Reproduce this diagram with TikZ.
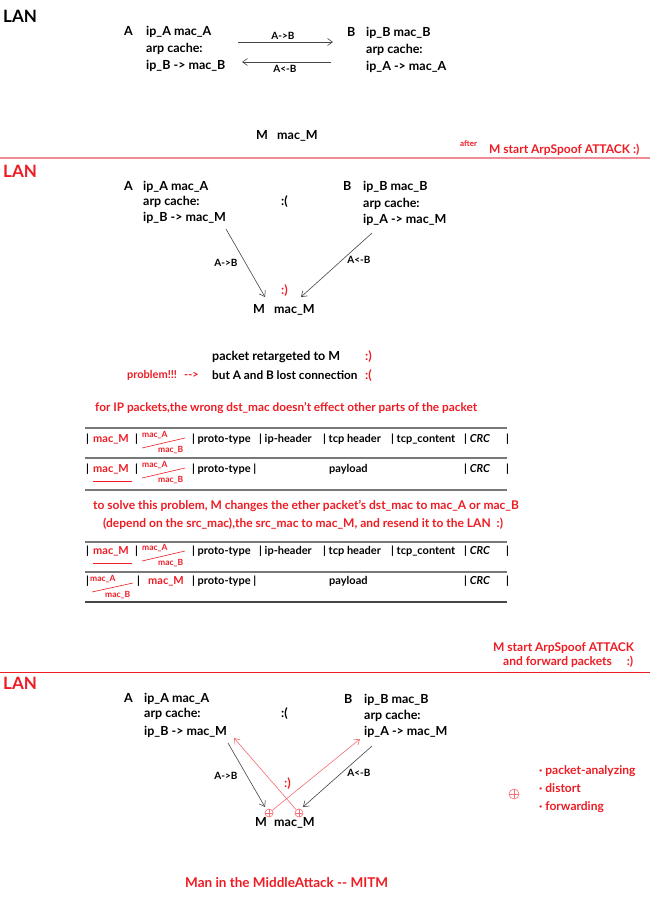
\documentclass[tikz,border=0pt]{standalone}
\usepackage{fontspec}
\setmainfont{Lato}
\usetikzlibrary{arrows.meta}
\definecolor{myred}{RGB}{238,28,36}
\definecolor{lred}{RGB}{245,110,115}
\definecolor{pinkl}{RGB}{240,140,150}
\definecolor{dgray}{RGB}{70,70,70}
\definecolor{tgray}{RGB}{120,120,120}
\tikzset{
 txt/.style={anchor=west, inner sep=0pt, text height=9pt, text depth=3pt, font=\fontsize{12.5}{14}\selectfont\bfseries, text=black},
 rtxt/.style={txt, text=myred},
 lan/.style={txt, font=\fontsize{17}{19}\selectfont\bfseries, text height=12pt, text depth=0pt},
 lbl/.style={anchor=center, inner sep=0pt, font=\fontsize{10}{11}\selectfont\bfseries},
 tab/.style={anchor=west, inner sep=0pt, text height=7.5pt, text depth=2.5pt, font=\fontsize{11}{12}\selectfont\bfseries},
 rtab/.style={tab, text=myred},
 stab/.style={tab, text=myred, font=\fontsize{8.5}{10}\selectfont\bfseries, text height=6pt, text depth=2pt},
 msg/.style={rtab, font=\fontsize{12}{13}\selectfont\bfseries},
 arr/.style={-{Straight Barb[length=5pt,width=7pt]}, line width=0.6pt, draw=dgray},
 rarr/.style={-{Straight Barb[length=5pt,width=7pt]}, line width=0.6pt, draw=lred},
 hrule/.style={draw=tgray, line width=1.3pt},
 slash/.style={draw=myred, line width=0.6pt},
 oplus/.style={circle, draw=lred, line width=0.6pt, inner sep=0pt, minimum size=8pt, path picture={\draw[lred, line width=0.6pt] (path picture bounding box.north) -- (path picture bounding box.south) (path picture bounding box.west) -- (path picture bounding box.east);}},
}
\begin{document}
\begin{tikzpicture}[x=1pt,y=-1pt]
\useasboundingbox[fill=white] (0,0) rectangle (650,918);

% ---------- section 1
\node[lan] (lan1) at (3,17) {LAN};
\node[txt] (a1) at (124,32) {A};
\node[txt] (a1ip) at (146,32) {ip\_A mac\_A};
\node[txt] (a1arp) at (146,49) {arp cache:};
\node[txt] (a1c) at (146,66) {ip\_B -> mac\_B};
\node[txt] (b1) at (347,33) {B};
\node[txt] (b1ip) at (366,33) {ip\_B mac\_B};
\node[txt] (b1arp) at (366,50) {arp cache:};
\node[txt] (b1c) at (366,67) {ip\_A -> mac\_A};
\coordinate (e1s) at (238,42); \coordinate (e1e) at (333,42);
\coordinate (e2s) at (331,62); \coordinate (e2e) at (242,62);
\draw[arr] (e1s) -- (e1e);
\draw[arr] (e2s) -- (e2e);
\node[lbl] (l1) at (283,36) {A->B};
\node[lbl] (l2) at (285,69) {A<-B};
\node[txt] (m1) at (256,136) {M};
\node[txt] (m1mac) at (277,136) {mac\_M};
\node[rtxt, font=\fontsize{8}{9}\selectfont\bfseries] (after) at (460,143) {after};
\node[rtxt, font=\fontsize{12}{13}\selectfont\bfseries] (att1) at (489,150) {M start ArpSpoof ATTACK :)};
\draw[pinkl, line width=2.2pt] (0,158) -- (650,158);

% ---------- section 2
\node[lan, text=myred] (lan2) at (3,171) {LAN};
\node[txt] (a2) at (124,187) {A};
\node[txt] (a2ip) at (143,187) {ip\_A mac\_A};
\node[txt] (a2arp) at (143,202) {arp cache:};
\node[txt] (a2c) at (143,218) {ip\_B -> mac\_M};
\node[txt] (sad2) at (281,202) {:(};
\node[txt] (b2) at (343,187) {B};
\node[txt] (b2ip) at (363,187) {ip\_B mac\_B};
\node[txt] (b2arp) at (363,204) {arp cache:};
\node[txt] (b2c) at (363,220) {ip\_A -> mac\_M};
\coordinate (f1s) at (226,229); \coordinate (f1e) at (265,297);
\coordinate (f2s) at (372,233); \coordinate (f2e) at (301,297);
\draw[arr] (f1s) -- (f1e);
\draw[arr] (f2s) -- (f2e);
\node[lbl] (l3) at (226,263) {A->B};
\node[lbl] (l4) at (359,260) {A<-B};
\node[rtxt] (smile2) at (281,291) {:)};
\node[txt] (m2) at (253,310) {M};
\node[txt] (m2mac) at (274,310) {mac\_M};
\node[txt] (ret) at (212,357) {packet retargeted to M};
\node[rtxt] (smile3) at (365,357) {:)};
\node[rtab] (prob) at (127,376) {problem!!!};
\node[rtab] (darr) at (184,376) {-{}->};
\node[txt, font=\fontsize{11.8}{14}\selectfont\bfseries] (lost) at (212,376) {but A and B lost connection};
\node[rtxt] (sad3) at (365,376) {:(};

% ---------- packet tables
\node[msg, font=\fontsize{11.8}{13}\selectfont\bfseries] (msg1) at (95,409) {for IP packets,the wrong dst\_mac doesn't effect other parts of the packet};
\coordinate (h1a) at (85,428); \coordinate (h1b) at (507,428);
\coordinate (h2a) at (85,458); \coordinate (h2b) at (507,458);
\coordinate (h3a) at (85,490); \coordinate (h3b) at (507,490);
\draw[hrule] (h1a) -- (h1b);
\draw[hrule] (h2a) -- (h2b);
\draw[hrule] (h3a) -- (h3b);
% row 1
\node[tab] (r1b0) at (86,440) {|};
\node[rtab] (r1m) at (93,440) {mac\_M};
\node[tab] (r1b1) at (135,440) {|};
\node[stab] (r1a) at (142,435) {mac\_A};
\node[stab] (r1bb) at (158,450) {mac\_B};
\coordinate (s1a) at (142,448); \coordinate (s1b) at (185,438);
\draw[slash] (s1a) -- (s1b);
\node[tab] (r1c1) at (192,440) {| proto-type};
\node[tab] (r1c2) at (259,440) {| ip-header};
\node[tab] (r1c3) at (323,440) {| tcp header};
\node[tab] (r1c4) at (391,440) {| tcp\_content};
\node[tab] (r1c5) at (464,440) {| \textit{CRC}};
\node[tab] (r1c6) at (506,440) {|};
% row 2
\node[tab] (r2b0) at (86,470) {|};
\node[rtab] (r2m) at (93,470) {mac\_M};
\coordinate (u2a) at (93,481); \coordinate (u2b) at (132,481);
\draw[slash] (u2a) -- (u2b);
\node[tab] (r2b1) at (135,470) {|};
\node[stab] (r2a) at (142,465) {mac\_A};
\node[stab] (r2bb) at (158,480) {mac\_B};
\coordinate (s2a) at (142,478); \coordinate (s2b) at (185,468);
\draw[slash] (s2a) -- (s2b);
\node[tab] (r2c1) at (192,470) {| proto-type |};
\node[tab] (r2c2) at (329,470) {payload};
\node[tab] (r2c5) at (464,470) {| \textit{CRC}};
\node[tab] (r2c6) at (506,470) {|};

\node[msg] (msg2) at (93,507) {to solve this problem, M changes the ether packet's dst\_mac to mac\_A or mac\_B};
\node[msg] (msg3) at (103,525) {(depend on the src\_mac),the src\_mac to mac\_M, and resend it to the LAN \ :)};
\coordinate (h4a) at (85,542); \coordinate (h4b) at (507,542);
\coordinate (h5a) at (85,572); \coordinate (h5b) at (507,572);
\coordinate (h6a) at (85,602); \coordinate (h6b) at (507,602);
\draw[hrule] (h4a) -- (h4b);
\draw[hrule] (h5a) -- (h5b);
\draw[hrule, draw=dgray] (h6a) -- (h6b);
% row 3
\node[tab] (r3b0) at (86,552) {|};
\node[rtab] (r3m) at (93,552) {mac\_M};
\coordinate (u3a) at (93,563); \coordinate (u3b) at (132,563);
\draw[slash] (u3a) -- (u3b);
\node[tab] (r3b1) at (135,552) {|};
\node[stab] (r3a) at (142,548) {mac\_A};
\node[stab] (r3bb) at (158,563) {mac\_B};
\coordinate (s3a) at (142,561); \coordinate (s3b) at (185,551);
\draw[slash] (s3a) -- (s3b);
\node[tab] (r3c1) at (192,552) {| proto-type};
\node[tab] (r3c2) at (259,552) {| ip-header};
\node[tab] (r3c3) at (323,552) {| tcp header};
\node[tab] (r3c4) at (391,552) {| tcp\_content};
\node[tab] (r3c5) at (464,552) {| \textit{CRC}};
\node[tab] (r3c6) at (506,552) {|};
% row 4
\node[tab] (r4b0) at (86,582) {|};
\node[stab] (r4a) at (90,579) {mac\_A};
\node[stab] (r4bb) at (105,595) {mac\_B};
\coordinate (s4a) at (92,592); \coordinate (s4b) at (133,583);
\draw[slash] (s4a) -- (s4b);
\node[tab] (r4b1) at (137,582) {|};
\node[rtab] (r4m) at (148,582) {mac\_M};
\node[tab] (r4c1) at (192,582) {| proto-type |};
\node[tab] (r4c2) at (329,582) {payload};
\node[tab] (r4c5) at (464,582) {| \textit{CRC}};
\node[tab] (r4c6) at (506,582) {|};

% ---------- section 3
\node[msg] (att2) at (493,649) {M start ArpSpoof ATTACK};
\node[msg] (att3) at (503,663) {and forward packets \quad:)};
\draw[myred, line width=0.8pt] (0,672) -- (650,672);
\node[lan, text=myred] (lan3) at (3,683) {LAN};
\node[txt] (a3) at (124,699) {A};
\node[txt] (a3ip) at (144,699) {ip\_A mac\_A};
\node[txt] (a3arp) at (144,714) {arp cache:};
\node[txt] (a3c) at (144,732) {ip\_B -> mac\_M};
\node[txt] (sad4) at (281,714) {:(};
\node[txt] (b3) at (344,700) {B};
\node[txt] (b3ip) at (364,700) {ip\_B mac\_B};
\node[txt] (b3arp) at (364,716) {arp cache:};
\node[txt] (b3c) at (364,732) {ip\_A -> mac\_M};
\coordinate (g1s) at (228,743); \coordinate (g1e) at (265,807);
\coordinate (g2s) at (372,746); \coordinate (g2e) at (303,807);
\draw[arr] (g1s) -- (g1e);
\draw[arr] (g2s) -- (g2e);
\node[lbl] (l5) at (226,776) {A->B};
\node[lbl] (l6) at (359,773) {A<-B};
\node[oplus] (op1) at (269,813) {};
\node[oplus] (op2) at (299,813) {};
\coordinate (k1) at (360,739);
\coordinate (k2) at (234,738);
\draw[rarr] (op1) -- (k1);
\draw[rarr] (op2) -- (k2);
\node[rtxt] (smile4) at (284,784) {:)};
\node[txt] (m3) at (255,823) {M};
\node[txt] (m3mac) at (274,823) {mac\_M};
\node[oplus, minimum size=10pt] (op3) at (514,794) {};
\node[rtab, font=\fontsize{12}{13}\selectfont\bfseries] (lg1) at (539,772) {· packet-analyzing};
\node[rtab, font=\fontsize{12}{13}\selectfont\bfseries] (lg2) at (539,790) {· distort};
\node[rtab, font=\fontsize{12}{13}\selectfont\bfseries] (lg3) at (539,808) {· forwarding};
\node[msg, font=\fontsize{13.5}{15}\selectfont\bfseries] (mitm) at (185,885) {Man in the MiddleAttack -{}- MITM};
\end{tikzpicture}
\end{document}
